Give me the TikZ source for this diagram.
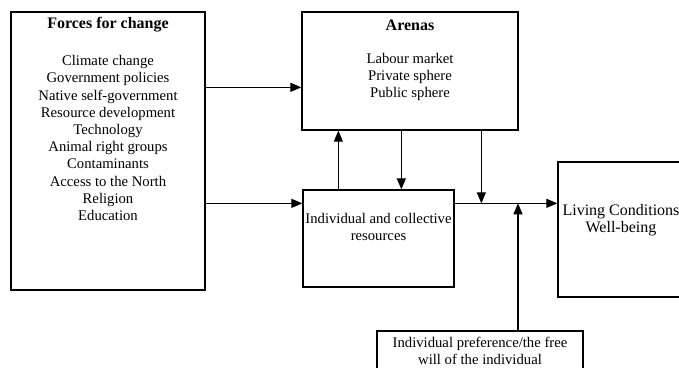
\documentclass[tikz,border=0pt]{standalone}
\usepackage{fontspec}
\setmainfont{Liberation Serif}
\usetikzlibrary{arrows.meta, positioning}

\begin{document}
\begin{tikzpicture}[x=1pt, y=-1pt, every node/.style={font=\fontsize{14.7}{17.2}\selectfont}]
\tikzstyle{box} = [rectangle, draw=black, line width=1.3pt, inner sep=0pt]
\tikzstyle{title} = [font=\fontsize{16}{18}\selectfont\bfseries, inner sep=0pt]
\tikzstyle{txt} = [align=center, inner sep=0pt]
\tikzstyle{arr} = [-{Triangle[length=11pt, width=9pt]}, line width=1.2pt]

\useasboundingbox (0,0) rectangle (679,367);

% boxes
\node[box, minimum width=194pt, minimum height=278pt] (forces) at (108,151) {};
\node[box, minimum width=216pt, minimum height=118pt] (arenas) at (410,71) {};
\node[box, minimum width=151pt, minimum height=97pt] (resources) at (378.5,238.5) {};
\node[box, minimum width=142pt, minimum height=135pt] (living) at (629,229.5) {};
\node[box, minimum width=206pt, minimum height=70pt] (pref) at (480,366) {};

% texts
\node[title] (forcestitle) at (108,25) {Forces for change};
\node[txt] (forcestxt) at (108,138) {Climate change\\Government policies\\Native self-government\\Resource development\\Technology\\Animal right groups\\Contaminants\\Access to the North\\Religion\\Education};
\node[title] (arenastitle) at (410,25) {Arenas};
\node[txt] (arenastxt) at (410,77) {Labour market\\Private sphere\\Public sphere};
\node[txt] (restxt) at (378.5,227) {Individual and collective\\resources};
\node[txt, font=\fontsize{16}{16.5}\selectfont] (livtxt) at (621,220) {Living Conditions\\Well-being};
\node[txt] (preftxt) at (480,351) {Individual preference/the free\\will of the individual};

% connectors
\coordinate (mid) at ([yshift=-14pt]resources.north east);
\draw[arr] ([yshift=-76pt]forces.north east) -- ([yshift=-76pt]arenas.north west);
\draw[arr] ([yshift=-192pt]forces.north east) -- ([yshift=-14pt]resources.north west);
\draw[arr] ([xshift=36pt]resources.north west) -- ([xshift=37pt]arenas.south west);
\draw[arr] ([xshift=100pt]arenas.south west) -- ([xshift=99pt]resources.north west);
\draw[arr] ([xshift=180pt]arenas.south west) -- ([xshift=180pt]arenas.south west |- mid);
\draw[arr] (mid) -- (mid -| living.west);
\draw[arr] ([xshift=38pt]pref.north) -- ([xshift=38pt]pref.north |- mid);

\end{tikzpicture}
\end{document}
